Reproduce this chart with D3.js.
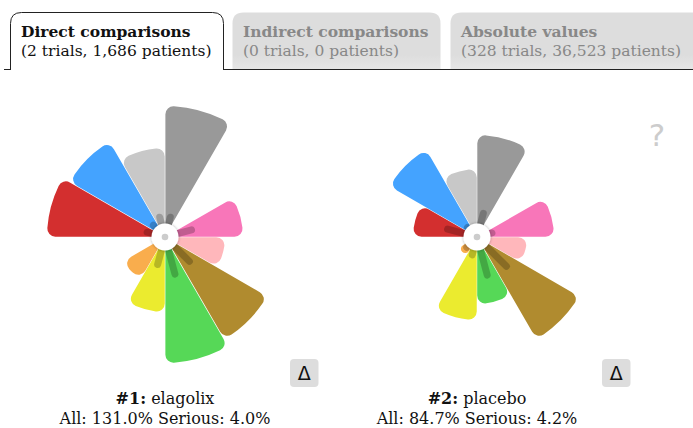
<!DOCTYPE html>
<html>
<head>
<meta charset="utf-8">
<script src="https://cdn.jsdelivr.net/npm/d3@7"></script>
<style>
  html, body { margin: 0; padding: 0; background: #fff; }
  svg { display: block; }
</style>
</head>
<body>
<svg id="chart" width="693" height="428"></svg>
<script>
// ---- data ----
const categories = ["cat1","cat2","cat3","cat4","cat5","cat6","cat7","cat8","cat9","cat10","cat11","cat12"];
const colors = ["#999999","#cccccc","#f876b9","#ffb7bb","#b08b2f","#56d857","#ebeb2f","#f9ad4d","#cccccc","#d32f2f","#44a3ff","#c8c8c8"];
const tabTitles = ["Direct comparisons","Indirect comparisons","Absolute values"];
const tabSubtitles = ["(2 trials, 1,686 patients)","(0 trials, 0 patients)","(328 trials, 36,523 patients)"];
const drugNames = ["elagolix","placebo"];
const drugAll = ["131.0%","84.7%"];
const drugSerious = ["4.0%","4.2%"];
// radial values per category (clockwise from 12 o'clock)
const allValues1 = [131, 0, 78, 60, 118, 126, 75, 48, 0, 118, 110, 89];
const seriousValues1 = [24, 0, 31, 0, 38, 42, 32, 0, 0, 22, 20, 24];
const allValues2 = [102, 0, 77, 50, 118, 67, 83, 21, 0, 64, 101, 68];
const seriousValues2 = [28, 0, 19, 0, 45, 43, 22, 18, 0, 34, 17, 0];

const svg = d3.select("#chart");
const font = "'DejaVu Serif', serif";
const defs = svg.append("defs");

// tab gradient (inactive tabs fade slightly at the bottom)
const lg = defs.append("linearGradient").attr("id", "tabg").attr("x1", 0).attr("y1", 0).attr("x2", 0).attr("y2", 1);
lg.append("stop").attr("offset", "0%").attr("stop-color", "#dddddd");
lg.append("stop").attr("offset", "75%").attr("stop-color", "#dddddd");
lg.append("stop").attr("offset", "100%").attr("stop-color", "#e6e6e6");

// ---- tabs ----
const tabs = [
  {x: 10, w: 214, active: true},
  {x: 232, w: 209, active: false},
  {x: 450, w: 260, active: false}
];
const tabTop = 12, tabBottom = 70, tabR = 11;
svg.append("line").attr("x1", 4).attr("x2", 693).attr("y1", tabBottom - 0.5).attr("y2", tabBottom - 0.5)
  .attr("stroke", "#222").attr("stroke-width", 1);
tabs.forEach((t, i) => {
  const x0 = t.x + 0.5, x1 = t.x + t.w - 0.5, y0 = tabTop + 0.5, y1 = t.active ? tabBottom : tabBottom - 1;
  const p = `M${x0},${y1} L${x0},${y0 + tabR} Q${x0},${y0} ${x0 + tabR},${y0} L${x1 - tabR},${y0} Q${x1},${y0} ${x1},${y0 + tabR} L${x1},${y1}` + (t.active ? "" : " Z");
  svg.append("path").attr("d", p)
    .attr("fill", t.active ? "#fff" : "url(#tabg)")
    .attr("stroke", t.active ? "#222" : "none")
    .attr("stroke-width", 1);
  svg.append("text").attr("x", t.x + 11).attr("y", 37)
    .attr("font-family", font).attr("font-size", 15.5).attr("font-weight", "bold")
    .attr("fill", t.active ? "#111" : "#888").text(tabTitles[i]);
  svg.append("text").attr("x", t.x + 11).attr("y", 56)
    .attr("font-family", font).attr("font-size", 15.5)
    .attr("fill", t.active ? "#111" : "#888").text(tabSubtitles[i]);
});

// ---- shadow filter ----
const f = defs.append("filter").attr("id", "sh").attr("x", "-50%").attr("y", "-50%").attr("width", "200%").attr("height", "200%");
f.append("feGaussianBlur").attr("in", "SourceAlpha").attr("stdDeviation", 1.5).attr("result", "b");
f.append("feComponentTransfer").attr("in", "b").attr("result", "o2")
  .append("feFuncA").attr("type", "linear").attr("slope", 0.35);
const fm = f.append("feMerge");
fm.append("feMergeNode").attr("in", "o2");
fm.append("feMergeNode").attr("in", "SourceGraphic");

// ---- flower charts ----
const rScale = d3.scaleLinear().domain([0, 131]).range([0, 131]);
const angle = d3.scaleBand().domain(categories).range([0, 2 * Math.PI]).paddingInner(0).paddingOuter(0);
const arc = d3.arc()
  .innerRadius(10)
  .outerRadius(d => rScale(d.v))
  .startAngle(d => angle(d.c))
  .endAngle(d => angle(d.c) + angle.bandwidth())
  .cornerRadius(8)
  .padAngle(0.006);

const charts = [
  {cx: 165, cy: 237, all: allValues1, ser: seriousValues1},
  {cx: 477, cy: 237, all: allValues2, ser: seriousValues2}
];

charts.forEach((ch, k) => {
  const g = svg.append("g").attr("transform", `translate(${ch.cx},${ch.cy})`);
  const data = categories.map((c, i) => ({c, v: ch.all[i], s: ch.ser[i], col: colors[i]}));
  g.selectAll("path.petal").data(data.filter(d => d.v > 0)).join("path")
    .attr("class", "petal").attr("d", arc).attr("fill", d => d.col);
  // serious bars
  const sb = data.filter(d => d.s > 0);
  g.selectAll("line.ser").data(sb).join("line")
    .attr("class", "ser")
    .each(function(d) {
      const a = angle(d.c) + angle.bandwidth() / 2;
      const r0 = 12, r1 = Math.max(r0, rScale(d.s) - 3.5);
      d3.select(this)
        .attr("x1", r0 * Math.sin(a)).attr("y1", -r0 * Math.cos(a))
        .attr("x2", r1 * Math.sin(a)).attr("y2", -r1 * Math.cos(a));
    })
    .attr("stroke", "#000").attr("stroke-opacity", 0.22)
    .attr("stroke-width", 7).attr("stroke-linecap", "round");
  // center
  g.append("circle").attr("r", 13.5).attr("fill", "#fff").attr("filter", "url(#sh)");
  g.append("circle").attr("r", 3.3).attr("fill", "#cccccc");

  // delta button
  const bx = ch.cx + 125, by = 359;
  svg.append("rect").attr("x", bx).attr("y", by).attr("width", 28.5).attr("height", 28).attr("rx", 4)
    .attr("fill", "#dddddd");
  svg.append("text").attr("x", bx + 14.25).attr("y", by + 20.5).attr("text-anchor", "middle")
    .attr("font-family", "'DejaVu Sans', sans-serif").attr("font-size", 19).attr("fill", "#111").text("Δ");

  // labels
  const t1 = svg.append("text").attr("x", ch.cx).attr("y", 404).attr("text-anchor", "middle")
    .attr("font-family", font).attr("font-size", 16).attr("fill", "#111");
  t1.append("tspan").attr("font-weight", "bold").text(`#${k + 1}:`);
  t1.append("tspan").text(" " + drugNames[k]);
  svg.append("text").attr("x", ch.cx).attr("y", 423.5).attr("text-anchor", "middle")
    .attr("font-family", font).attr("font-size", 16).attr("fill", "#111")
    .text(`All: ${drugAll[k]} Serious: ${drugSerious[k]}`);
});

// question mark
svg.append("text").attr("x", 657).attr("y", 146).attr("text-anchor", "middle")
  .attr("font-family", "'DejaVu Sans', sans-serif").attr("font-size", 31).attr("fill", "#cccccc").text("?");
</script>
</body>
</html>
